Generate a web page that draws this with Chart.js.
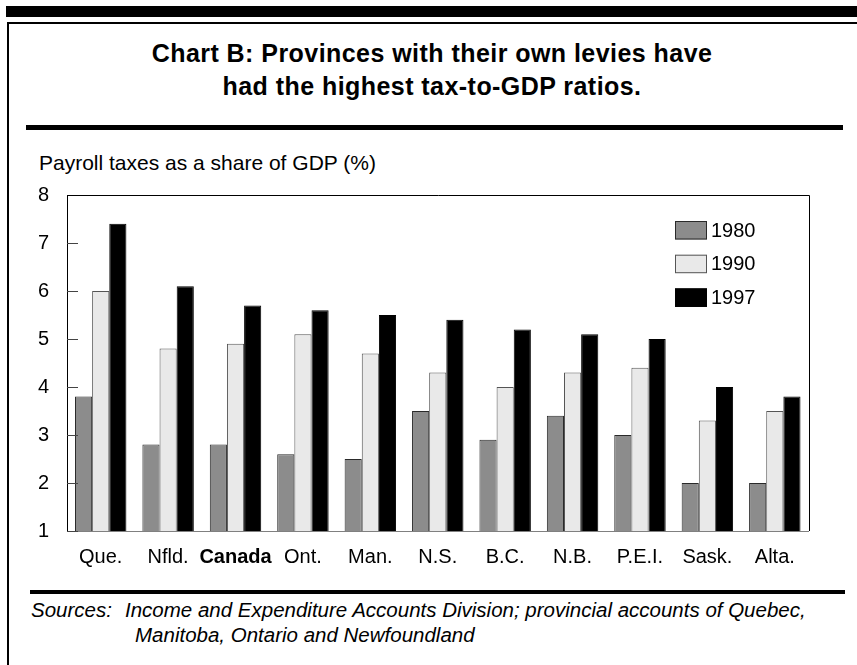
<!DOCTYPE html>
<html>
<head>
<meta charset="utf-8">
<script src="https://cdn.jsdelivr.net/npm/chart.js@4/dist/chart.umd.min.js"></script>
<style>
  html, body { margin: 0; padding: 0; background: #fff; }
  body { width: 857px; height: 665px; position: relative; overflow: hidden; font-family: "Liberation Sans", Arial, sans-serif; color: #000; }
  .abs { position: absolute; }
  #topbar { top: 6px; left: 6px; width: 851px; height: 11px; background: #000; }
  #frame { top: 22px; left: 7px; width: 900px; height: 700px; border-top: 2px solid #000; border-left: 2px solid #000; box-sizing: border-box; }
  #title { top: 37px; left: 0; width: 864px; text-align: center; font-weight: bold; font-size: 25px; line-height: 33px; letter-spacing: 0.45px; }
  #rule1 { top: 125px; left: 26px; width: 817px; height: 5px; background: #000; }
  #ytitle { top: 151px; left: 39px; font-size: 21px; line-height: 24px; white-space: nowrap; }
  #rule2 { top: 590px; left: 30px; width: 815px; height: 4px; background: #000; }
  .src { font-style: italic; font-size: 20.5px; line-height: 25px; white-space: nowrap; }
  #chartwrap { top: 180px; left: 0; width: 857px; height: 400px; }
</style>
</head>
<body>
<div id="topbar" class="abs"></div>
<div id="frame" class="abs"></div>
<div id="title" class="abs">Chart B: Provinces with their own levies have<br>had the highest tax-to-GDP ratios.</div>
<div id="rule1" class="abs"></div>
<div id="ytitle" class="abs">Payroll taxes as a share of GDP (%)</div>
<div id="chartwrap" class="abs"><canvas id="c" width="857" height="400"></canvas></div>
<div id="rule2" class="abs"></div>
<div class="abs src" style="top:597px;left:31px;">Sources:</div>
<div class="abs src" style="top:597px;left:125px;">Income and Expenditure Accounts Division; provincial accounts of Quebec,</div>
<div class="abs src" style="top:622px;left:135px;">Manitoba, Ontario and Newfoundland</div>

<script>
const categories = ["Que.", "Nfld.", "Canada", "Ont.", "Man.", "N.S.", "B.C.", "N.B.", "P.E.I.", "Sask.", "Alta."];
const seriesLabels = ["1980", "1990", "1997"];
const values1980 = [3.8, 2.8, 2.8, 2.6, 2.5, 3.5, 2.9, 3.4, 3.0, 2.0, 2.0];
const values1990 = [6.0, 4.8, 4.9, 5.1, 4.7, 4.3, 4.0, 4.3, 4.4, 3.3, 3.5];
const values1997 = [7.4, 6.1, 5.7, 5.6, 5.5, 5.4, 5.2, 5.1, 5.0, 4.0, 3.8];
const yTicks = [1, 2, 3, 4, 5, 6, 7, 8];

const FONT = '"Liberation Sans", Arial, sans-serif';
Chart.defaults.color = '#000';
Chart.defaults.font.family = FONT;

const frameAndTicks = {
  id: 'frameAndTicks',
  afterDraw(chart) {
    const ctx = chart.ctx, a = chart.chartArea, ys = chart.scales.y;
    ctx.save();
    ctx.strokeStyle = '#444';
    ctx.lineWidth = 1;
    ys.ticks.forEach((t, i) => {
      const y = Math.round(ys.getPixelForTick(i)) + 0.5;
      ctx.beginPath(); ctx.moveTo(a.left, y); ctx.lineTo(a.left + 11, y); ctx.stroke();
    });
    ctx.strokeStyle = '#000';
    ctx.beginPath();
    ctx.moveTo(a.left, Math.round(a.top) + 0.5);
    ctx.lineTo(Math.round(a.right) + 0.5, Math.round(a.top) + 0.5);
    ctx.lineTo(Math.round(a.right) + 0.5, a.bottom);
    ctx.stroke();
    const lx = a.left + 608, ly0 = a.top + 26, step = 33.7, bw = 32, bh = 18.5;
    ctx.font = '20px ' + FONT;
    ctx.textBaseline = 'middle';
    ctx.textAlign = 'left';
    chart.data.datasets.forEach((ds, i) => {
      const y = ly0 + i * step;
      ctx.fillStyle = ds.backgroundColor;
      ctx.fillRect(lx, y, bw, bh);
      ctx.strokeStyle = ds.borderColor;
      ctx.strokeRect(lx + 0.5, y + 0.5, bw - 1, bh - 1);
      ctx.fillStyle = '#000';
      ctx.fillText(ds.label, lx + bw + 4, y + bh / 2 + 1);
    });
    ctx.restore();
  }
};

new Chart(document.getElementById('c'), {
  type: 'bar',
  data: {
    labels: categories,
    datasets: [
      { label: seriesLabels[0], data: values1980, backgroundColor: '#8c8c8c', borderColor: '#2a2a2a', borderWidth: 1 },
      { label: seriesLabels[1], data: values1990, backgroundColor: '#e9e9e9', borderColor: '#555555', borderWidth: 1 },
      { label: seriesLabels[2], data: values1997, backgroundColor: '#000000', borderColor: '#000000', borderWidth: 1 }
    ]
  },
  options: {
    responsive: false,
    animation: false,
    devicePixelRatio: 1,
    layout: { padding: { top: 15, right: 48.5, bottom: 0, left: 0 } },
    datasets: { bar: { categoryPercentage: 0.763, barPercentage: 1.0 } },
    plugins: { legend: { display: false }, tooltip: { enabled: false }, title: { display: false } },
    scales: {
      x: {
        grid: { display: false, drawTicks: false },
        border: { display: true, color: '#808080', width: 1 },
        ticks: {
          padding: 14,
          maxRotation: 0,
          minRotation: 0,
          autoSkip: false,
          color: '#000',
          font: (c) => ({ family: FONT, size: 20, weight: c.index === 2 ? 'bold' : 'normal' })
        },
        afterFit: (s) => { s.height = 49; }
      },
      y: {
        min: yTicks[0],
        max: yTicks[yTicks.length - 1],
        afterBuildTicks: (s) => { s.ticks = yTicks.map(v => ({ value: v })); },
        grid: { display: true, drawOnChartArea: false, drawTicks: true, tickLength: 18, color: 'rgba(0,0,0,0)' },
        border: { display: true, color: '#000', width: 1 },
        ticks: { stepSize: 1, padding: 0, color: '#000', font: { family: FONT, size: 20 } },
        afterFit: (s) => { s.width = 67; }
      }
    }
  },
  plugins: [frameAndTicks]
});
</script>
</body>
</html>
